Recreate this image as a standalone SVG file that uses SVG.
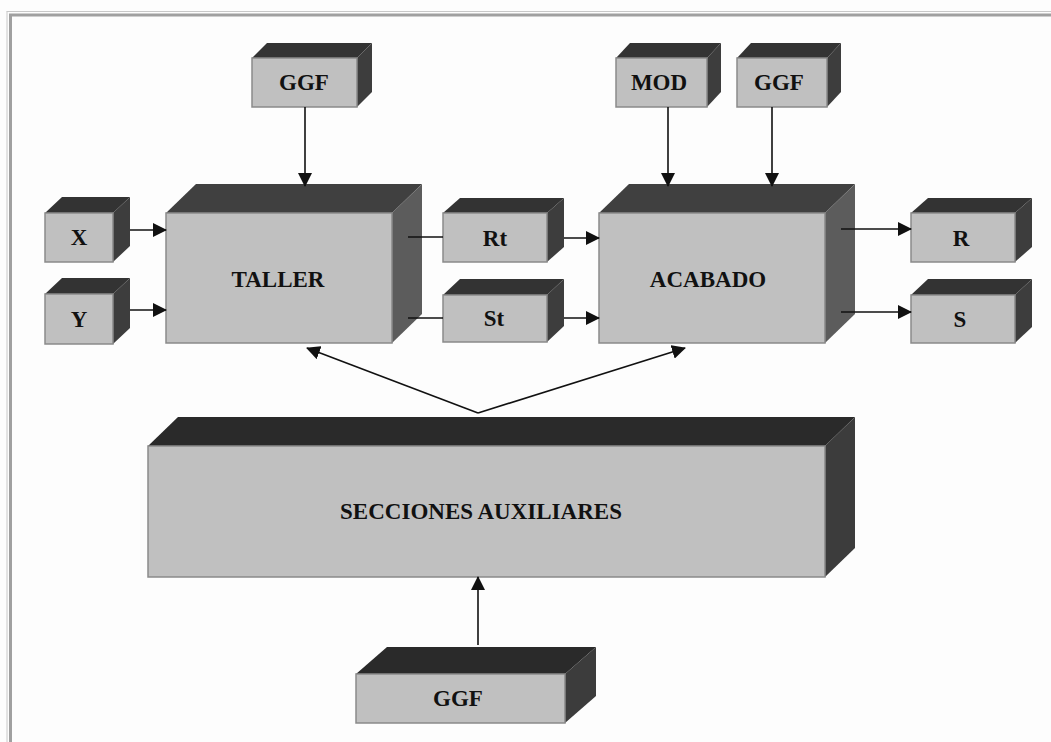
<svg xmlns="http://www.w3.org/2000/svg" width="1051" height="742" viewBox="0 0 1051 742">
<defs>
<style>
.front{fill:#c0c0c0;stroke:#8a8a8a;stroke-width:1.5}
.top{fill:#333333}
.side{fill:#3d3d3d}
.bigtop{fill:#404040}
.bigside{fill:#5c5c5c}
.stop{fill:#2a2a2a}
.sside{fill:#3c3c3c}
.lbl{font-family:"Liberation Serif","Times New Roman",serif;font-weight:bold;font-size:23px;fill:#111;text-anchor:middle}
.conn{stroke:#111;stroke-width:1.6;fill:none}
</style>
<marker id="arr" markerUnits="userSpaceOnUse" markerWidth="14" markerHeight="14" refX="13" refY="7" orient="auto" viewBox="0 0 14 14">
<path d="M0,0 L14,7 L0,14 z" fill="#111"/>
</marker>
</defs>
<rect x="0" y="0" width="1051" height="742" fill="#fdfdfd"/>
<g id="frame">
<line x1="7" y1="11.5" x2="7" y2="742" stroke="#c8c8c8" stroke-width="1"/>
<line x1="6.5" y1="11.5" x2="1051" y2="11.5" stroke="#c8c8c8" stroke-width="1"/>
<line x1="10.5" y1="15" x2="10.5" y2="742" stroke="#a0a0a0" stroke-width="3"/>
<line x1="9" y1="15" x2="1051" y2="15" stroke="#a0a0a0" stroke-width="3"/>
</g>

<g id="ggf-taller">
<polygon class="top" points="252,58 267,43 372,43 357,58"/>
<polygon class="side" points="357,58 372,43 372,92 357,107"/>
<rect class="front" x="252" y="58" width="105" height="49"/>
<text class="lbl" x="304" y="90">GGF</text>
</g>

<g id="x">
<polygon class="top" points="45,213 62,197 130,197 113,213"/>
<polygon class="side" points="113,213 130,197 130,246 113,262"/>
<rect class="front" x="45" y="213" width="68" height="49"/>
<text class="lbl" x="79" y="245">X</text>
</g>

<g id="y">
<polygon class="top" points="45,294 62,278 130,278 113,294"/>
<polygon class="side" points="113,294 130,278 130,328 113,344"/>
<rect class="front" x="45" y="294" width="68" height="50"/>
<text class="lbl" x="79" y="327">Y</text>
</g>

<g id="taller">
<polygon class="bigtop" points="166,213 196,184 422,184 392,213"/>
<polygon class="bigside" points="392,213 422,184 422,314 392,343"/>
<rect class="front" x="166" y="213" width="226" height="130"/>
<text class="lbl" x="278" y="287">TALLER</text>
</g>

<g id="rt">
<polygon class="top" points="443,213 460,198 564,198 547,213"/>
<polygon class="side" points="547,213 564,198 564,247 547,262"/>
<rect class="front" x="443" y="213" width="104" height="49"/>
<text class="lbl" x="495" y="246">Rt</text>
</g>

<g id="st">
<polygon class="top" points="443,295 460,279 564,279 547,295"/>
<polygon class="side" points="547,295 564,279 564,326 547,342"/>
<rect class="front" x="443" y="295" width="104" height="47"/>
<text class="lbl" x="494" y="326">St</text>
</g>

<g id="mod">
<polygon class="top" points="616,58 630,43 721,43 707,58"/>
<polygon class="side" points="707,58 721,43 721,92 707,107"/>
<rect class="front" x="616" y="58" width="91" height="49"/>
<text class="lbl" x="659" y="90">MOD</text>
</g>

<g id="ggf-acabado">
<polygon class="top" points="737,58 751,43 841,43 827,58"/>
<polygon class="side" points="827,58 841,43 841,92 827,107"/>
<rect class="front" x="737" y="58" width="90" height="49"/>
<text class="lbl" x="779" y="90">GGF</text>
</g>

<g id="acabado">
<polygon class="bigtop" points="599,213 629,184 855,184 825,213"/>
<polygon class="bigside" points="825,213 855,184 855,314 825,343"/>
<rect class="front" x="599" y="213" width="226" height="130"/>
<text class="lbl" x="708" y="287">ACABADO</text>
</g>

<g id="r">
<polygon class="top" points="911,213 928,198 1032,198 1015,213"/>
<polygon class="side" points="1015,213 1032,198 1032,247 1015,262"/>
<rect class="front" x="911" y="213" width="104" height="49"/>
<text class="lbl" x="961" y="246">R</text>
</g>

<g id="s">
<polygon class="top" points="911,295 928,279 1032,279 1015,295"/>
<polygon class="side" points="1015,295 1032,279 1032,327 1015,343"/>
<rect class="front" x="911" y="295" width="104" height="48"/>
<text class="lbl" x="960" y="327">S</text>
</g>

<g id="secciones">
<polygon class="stop" points="148,446 178,417 855,417 825,446"/>
<polygon class="sside" points="825,446 855,417 855,548 825,577"/>
<rect class="front" x="148" y="446" width="677" height="131"/>
<text class="lbl" x="481" y="519">SECCIONES AUXILIARES</text>
</g>

<g id="ggf-secciones">
<polygon class="stop" points="356,674 387,647 596,647 565,674"/>
<polygon class="sside" points="565,674 596,647 596,696 565,723"/>
<rect class="front" x="356" y="674" width="209" height="49"/>
<text class="lbl" x="458" y="706">GGF</text>
</g>

<g id="connectors">
<line class="conn" x1="305" y1="107" x2="305" y2="186" marker-end="url(#arr)"/>
<line class="conn" x1="130" y1="230" x2="166" y2="230" marker-end="url(#arr)"/>
<line class="conn" x1="130" y1="310" x2="166" y2="310" marker-end="url(#arr)"/>
<line class="conn" x1="408" y1="237" x2="443" y2="237"/>
<line class="conn" x1="408" y1="318" x2="443" y2="318"/>
<line class="conn" x1="564" y1="238" x2="599" y2="238" marker-end="url(#arr)"/>
<line class="conn" x1="564" y1="318" x2="599" y2="318" marker-end="url(#arr)"/>
<line class="conn" x1="668" y1="107" x2="668" y2="186" marker-end="url(#arr)"/>
<line class="conn" x1="772" y1="107" x2="772" y2="186" marker-end="url(#arr)"/>
<line class="conn" x1="841" y1="229" x2="911" y2="229" marker-end="url(#arr)"/>
<line class="conn" x1="841" y1="312" x2="911" y2="312" marker-end="url(#arr)"/>
<line class="conn" x1="478" y1="413" x2="307" y2="348" marker-end="url(#arr)"/>
<line class="conn" x1="478" y1="413" x2="685" y2="348" marker-end="url(#arr)"/>
<line class="conn" x1="478" y1="645" x2="478" y2="577" marker-end="url(#arr)"/>
</g>
</svg>
